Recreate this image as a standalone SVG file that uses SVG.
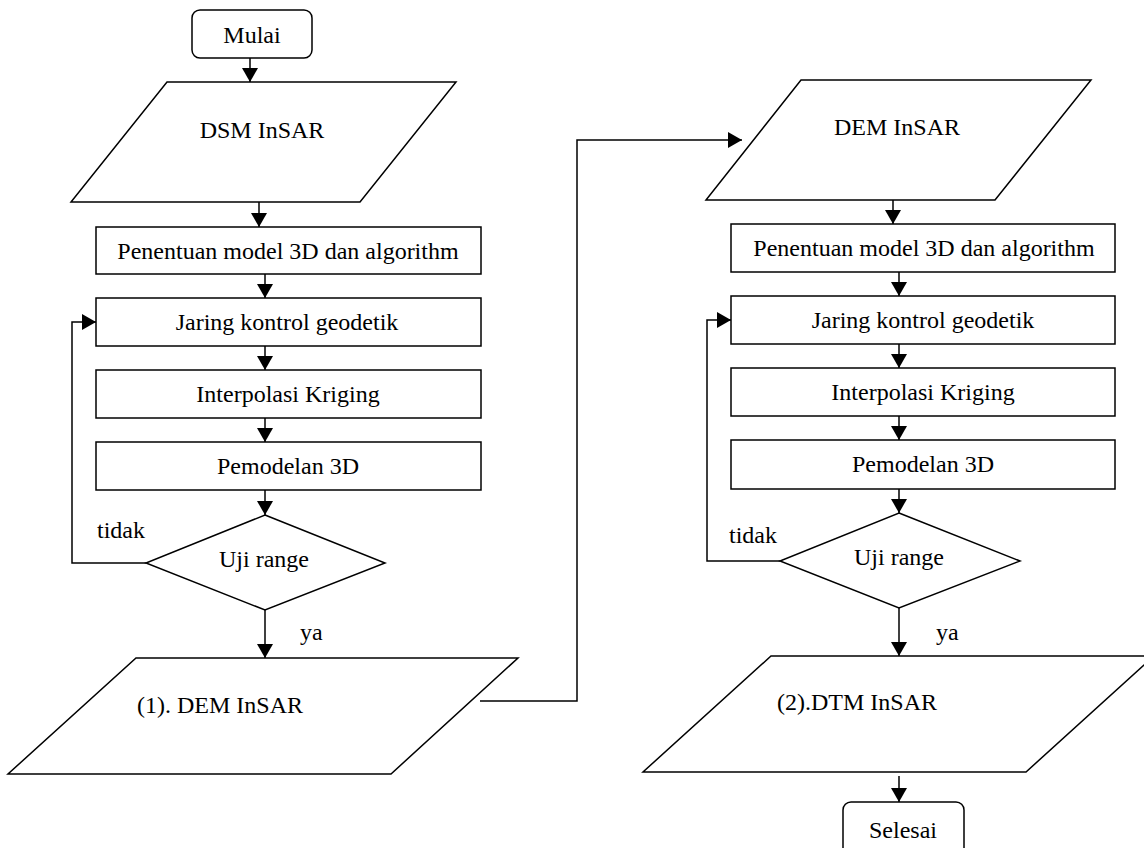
<svg xmlns="http://www.w3.org/2000/svg" width="1144" height="848" viewBox="0 0 1144 848">
<defs>
<marker id="ah" markerUnits="userSpaceOnUse" markerWidth="14" markerHeight="16" refX="14" refY="8" orient="auto">
<path d="M0,0 L14,8 L0,16 z" fill="#000"/>
</marker>
<style>
.s{fill:#fff;stroke:#000;stroke-width:1.5}
.c{fill:none;stroke:#000;stroke-width:1.5;marker-end:url(#ah)}
.l{fill:none;stroke:#000;stroke-width:1.5}
text{font-family:"Liberation Serif","Times New Roman",serif;font-size:24px;fill:#000}
.m{text-anchor:middle}
</style>
</defs>
<rect width="1144" height="848" fill="#fff"/>
<g id="connectors">
<line class="c" x1="250" y1="58" x2="250" y2="82"/>
<line class="c" x1="259" y1="202" x2="259" y2="227"/>
<line class="c" x1="265" y1="274" x2="265" y2="298"/>
<line class="c" x1="265" y1="346" x2="265" y2="370"/>
<line class="c" x1="265" y1="418" x2="265" y2="442"/>
<line class="c" x1="265" y1="490" x2="265" y2="515"/>
<line class="c" x1="265" y1="610" x2="265" y2="658"/>
<polyline class="c" points="146,563 72,563 72,322 96,322"/>
<polyline class="c" points="480,701 577,701 577,140 742,140"/>
<line class="c" x1="893" y1="200" x2="893" y2="224"/>
<line class="c" x1="899" y1="272" x2="899" y2="296"/>
<line class="c" x1="899" y1="344" x2="899" y2="368"/>
<line class="c" x1="899" y1="416" x2="899" y2="440"/>
<line class="c" x1="899" y1="489" x2="899" y2="513"/>
<line class="c" x1="899" y1="608" x2="899" y2="656"/>
<polyline class="c" points="780,561 707,561 707,320 731,320"/>
<line class="c" x1="899" y1="776" x2="899" y2="802"/>
<text x="97" y="538">tidak</text>
<text x="300" y="640">ya</text>
<text x="729" y="543">tidak</text>
<text x="936" y="640">ya</text>
</g>
<g id="mulai">
<rect class="s" x="192" y="10" width="120" height="48" rx="8"/>
<text class="m" x="252" y="43">Mulai</text>
</g>
<g id="dsm">
<polygon class="s" points="167,82 456,82 360,202 71,202"/>
<text class="m" x="262" y="138">DSM InSAR</text>
</g>
<g id="penentuan1">
<rect class="s" x="96" y="227" width="385" height="47"/>
<text class="m" x="288" y="259">Penentuan model 3D dan algorithm</text>
</g>
<g id="jaring1">
<rect class="s" x="96" y="298" width="385" height="48"/>
<text class="m" x="287" y="330">Jaring kontrol geodetik</text>
</g>
<g id="interpolasi1">
<rect class="s" x="96" y="370" width="385" height="48"/>
<text class="m" x="288" y="402">Interpolasi Kriging</text>
</g>
<g id="pemodelan1">
<rect class="s" x="96" y="442" width="385" height="48"/>
<text class="m" x="288" y="474">Pemodelan 3D</text>
</g>
<g id="uji1">
<polygon class="s" points="265,515 385,563 265,610 146,563"/>
<text class="m" x="264" y="567">Uji range</text>
</g>
<g id="dem1">
<polygon class="s" points="136,658 518,658 391,774 8,774"/>
<text x="137" y="713">(1). DEM InSAR</text>
</g>
<g id="dem2">
<polygon class="s" points="801,80 1091,80 995,200 706,200"/>
<text class="m" x="897" y="135">DEM InSAR</text>
</g>
<g id="penentuan2">
<rect class="s" x="731" y="224" width="384" height="48"/>
<text class="m" x="924" y="256">Penentuan model 3D dan algorithm</text>
</g>
<g id="jaring2">
<rect class="s" x="731" y="296" width="384" height="48"/>
<text class="m" x="923" y="328">Jaring kontrol geodetik</text>
</g>
<g id="interpolasi2">
<rect class="s" x="731" y="368" width="384" height="48"/>
<text class="m" x="923" y="400">Interpolasi Kriging</text>
</g>
<g id="pemodelan2">
<rect class="s" x="731" y="440" width="384" height="49"/>
<text class="m" x="923" y="472">Pemodelan 3D</text>
</g>
<g id="uji2">
<polygon class="s" points="899,513 1020,561 899,608 780,561"/>
<text class="m" x="899" y="565">Uji range</text>
</g>
<g id="dtm">
<polygon class="s" points="771,656 1154,656 1026,772 643,772"/>
<text x="777" y="710">(2).DTM InSAR</text>
</g>
<g id="selesai">
<rect class="s" x="843" y="802" width="121" height="56" rx="8"/>
<text class="m" x="903" y="838">Selesai</text>
</g>
</svg>
